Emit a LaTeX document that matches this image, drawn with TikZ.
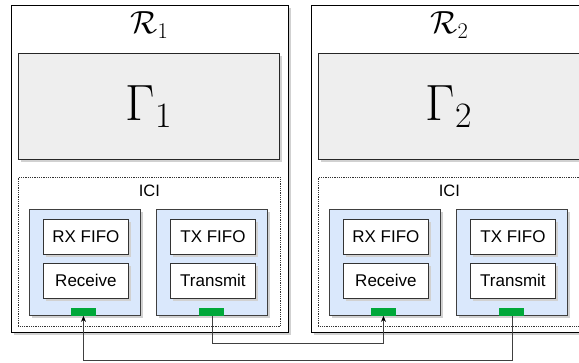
\RequirePackage{fix-cm}
\documentclass[tikz,border=0pt]{standalone}
\usepackage{fontspec}
\newfontfamily\drawfont{Liberation Sans}
\usetikzlibrary{positioning}
\usetikzlibrary{shadows,arrows.meta}
\usepackage{xcolor}
\definecolor{paneblue}{HTML}{DAE8FC}
\definecolor{portgreen}{HTML}{00A83A}
\definecolor{gammagrey}{HTML}{EEEEEE}

\begin{document}
\begin{tikzpicture}[x=1pt, y=-1pt,
		shadowed/.style={drop shadow={shadow xshift=3pt, shadow yshift=-3pt, opacity=1, fill=black!18}},
		regionbox/.style={rectangle, draw=black, fill=white, line width=0.9pt, shadowed, anchor=north west, inner sep=0pt, minimum width=277pt, minimum height=327pt},
		gammabox/.style={rectangle, draw=black!85, fill=gammagrey, line width=0.9pt, shadowed, anchor=north west, inner sep=0pt, minimum width=261pt, minimum height=106pt, font=\fontsize{51}{55}\selectfont},
		icibox/.style={rectangle, draw=black!80, densely dotted, line width=0.8pt, anchor=north west, inner sep=0pt, minimum width=262pt, minimum height=149pt},
		sidebox/.style={rectangle, draw=black!75, fill=paneblue, line width=0.9pt, shadowed, anchor=north west, inner sep=0pt, minimum width=111pt, minimum height=106pt},
		unitbox/.style={rectangle, draw=black!80, fill=white, line width=0.9pt, shadowed, inner sep=0pt, minimum width=85pt, minimum height=35pt, font=\drawfont\fontsize{17}{20}\selectfont},
		portbox/.style={rectangle, fill=portgreen, inner sep=0pt, minimum width=25pt, minimum height=8pt},
		link/.style={draw=black!75, line width=0.8pt, -{Stealth[length=6pt, width=5pt, black]}},
		]
		\useasboundingbox (0,0) rectangle (579,363);
		\clip (0,0) rectangle (579,363);
		
		%Nodes
		\foreach \i/\dx in {1/0, 2/300}{
			\node[regionbox]  (r\i)      at (11+\dx,5)    {};
			\node[anchor=base, inner sep=0pt, font=\fontsize{32}{36}\selectfont] (rtitle\i) at (149.5+\dx,34) {$\mathcal{R}_\i$};
			\node[gammabox]   (gamma\i)  at (18+\dx,53)   {$\Gamma_\i$};
			\node[icibox]     (ici\i)    at (18+\dx,177)  {};
			\node[inner sep=0pt, font=\drawfont\fontsize{16.5}{19}\selectfont] (icilabel\i) [below=8pt of ici\i.north] {ICI};
			\node[sidebox]    (rxside\i) at (29+\dx,209)  {};
			\node[sidebox]    (txside\i) at (156+\dx,209) {};
			\node[unitbox]    (rxfifo\i)   [below right=10pt and 14pt of rxside\i.north west] {RX FIFO};
			\node[unitbox]    (receive\i)  [below=8pt of rxfifo\i]  {Receive};
			\node[unitbox]    (txfifo\i)   [below right=10pt and 14pt of txside\i.north west] {TX FIFO};
			\node[unitbox]    (transmit\i) [below=8pt of txfifo\i]  {Transmit};
			\node[portbox]    (rxport\i)   [above=0pt of rxside\i.south, xshift=-1.5pt] {};
			\node[portbox]    (txport\i)   [above=0pt of txside\i.south] {};
		}
		
		%Lines
		\draw[link] (txport2.south) -- ++(0,45) -| (rxport1.south);
		\draw[link] (txport1.south) -- ++(0,28) -| (rxport2.south);
	\end{tikzpicture}
\end{document}
